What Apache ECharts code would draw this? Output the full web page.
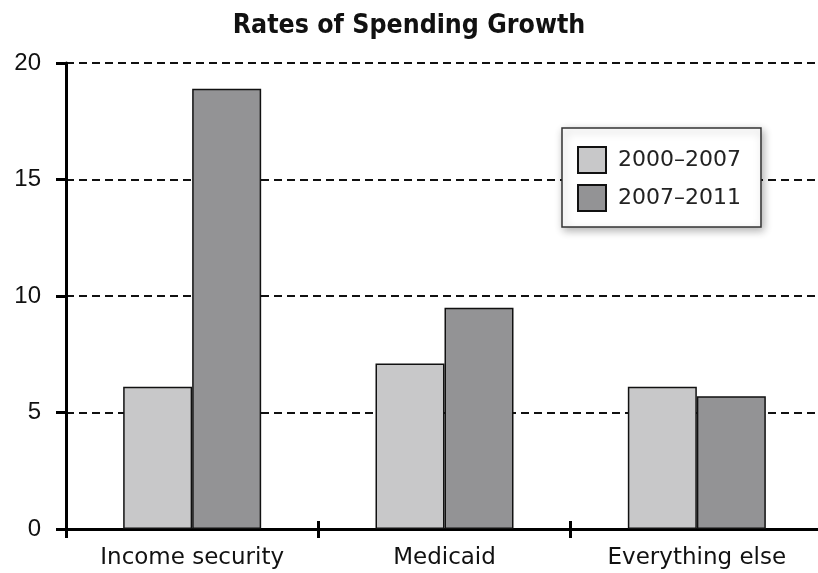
<!DOCTYPE html>
<html><head><meta charset="utf-8">
<script src="https://cdn.jsdelivr.net/npm/echarts@6/dist/echarts.min.js"></script>
<style>html,body{margin:0;padding:0;background:#fff}#c{width:818px;height:573px}</style>
</head><body><div id="c"></div>
<script>
const categories = ["Income security", "Medicaid", "Everything else"];
const series2000_2007 = [6.1, 7.1, 6.1];
const series2007_2011 = [18.9, 9.5, 5.7];
const seriesNames = ["2000\u20132007", "2007\u20132011"];
const yTicks = [0, 5, 10, 15, 20];

const chart = echarts.init(document.getElementById('c'));
const wideFont = "'DejaVu Sans', Verdana, sans-serif";
const numFont = "'Liberation Sans', Arial, Helvetica, sans-serif";
chart.setOption({
  animation: false,
  backgroundColor: '#fff',
  title: {
    text: 'Rates of Spending Growth',
    left: 'center', top: 8,
    textStyle: { fontFamily: "'DejaVu Sans Condensed', 'Liberation Sans', Arial, sans-serif", fontWeight: 'bold', fontSize: 26.5, color: '#111' }
  },
  legend: {
    data: seriesNames,
    orient: 'vertical',
    left: 562, top: 128,
    padding: [18, 20, 15, 15],
    itemWidth: 28, itemHeight: 26, itemGap: 10,
    icon: 'rect',
    backgroundColor: '#fff',
    borderColor: '#333', borderWidth: 1.5,
    shadowColor: 'rgba(0,0,0,0.3)', shadowBlur: 8, shadowOffsetX: 2, shadowOffsetY: 3,
    textStyle: { fontFamily: wideFont, fontSize: 22, color: '#222', padding: [0, 0, 0, 7] }
  },
  grid: { left: 66, top: 63, bottom: 44, width: 757, containLabel: false, outerBoundsMode: 'none' },
  xAxis: [{
    type: 'category', data: categories, position: 'bottom',
    axisLine: { show: true, lineStyle: { color: '#000', width: 3 } },
    axisTick: { show: true, length: 9, lineStyle: { color: '#000', width: 3 } },
    axisLabel: { fontFamily: wideFont, fontSize: 23, color: '#111', margin: 18 },
    splitLine: { show: false }
  }, {
    type: 'category', data: categories, position: 'bottom',
    axisLine: { show: false },
    axisTick: { show: true, inside: true, length: 8, lineStyle: { color: '#000', width: 3 } },
    axisLabel: { show: false },
    splitLine: { show: false }
  }],
  yAxis: {
    type: 'value', min: yTicks[0], max: yTicks[yTicks.length - 1], interval: 5,
    axisLine: { show: true, lineStyle: { color: '#000', width: 3 } },
    axisTick: { show: true, length: 10, lineStyle: { color: '#000', width: 3 } },
    axisLabel: { fontFamily: numFont, fontSize: 24, color: '#111', margin: 25 },
    splitLine: { show: true, lineStyle: { color: '#111', width: 2, type: [8, 5] } }
  },
  series: [{
    name: seriesNames[0], type: 'bar', xAxisIndex: 0, data: series2000_2007,
    barWidth: 69, barGap: '0%',
    itemStyle: { color: '#c8c8c9', borderColor: '#111', borderWidth: 1.5 }
  }, {
    name: seriesNames[1], type: 'bar', xAxisIndex: 0, data: series2007_2011,
    barWidth: 69, barGap: '0%',
    itemStyle: { color: '#939395', borderColor: '#111', borderWidth: 1.5 }
  }]
});
</script></body></html>
